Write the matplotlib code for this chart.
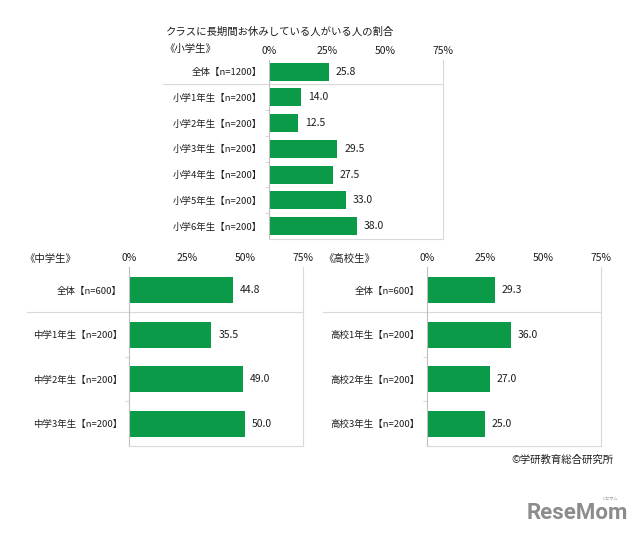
import matplotlib.pyplot as plt
from matplotlib.lines import Line2D

plt.rcParams['font.family'] = ['Noto Sans CJK JP', 'DejaVu Sans']

GREEN = '#0a9a48'
TEXT = '#1e1e1e'
LINE = '#d9d9d9'

title = 'クラスに長期間お休みしている人がいる人の割合'

elem_labels = ['全体【n=1200】', '小学1年生【n=200】', '小学2年生【n=200】', '小学3年生【n=200】',
               '小学4年生【n=200】', '小学5年生【n=200】', '小学6年生【n=200】']
elem_values = [25.8, 14.0, 12.5, 29.5, 27.5, 33.0, 38.0]

jhs_labels = ['全体【n=600】', '中学1年生【n=200】', '中学2年生【n=200】', '中学3年生【n=200】']
jhs_values = [44.8, 35.5, 49.0, 50.0]

hs_labels = ['全体【n=600】', '高校1年生【n=200】', '高校2年生【n=200】', '高校3年生【n=200】']
hs_values = [29.3, 36.0, 27.0, 25.0]

xticks = [0, 25, 50, 75]


def panel(fig, rect, labels, values, bar_h, sep_left, ylim):
    ax = fig.add_axes(rect)
    pos = list(range(len(values)))
    ax.barh(pos, values, height=bar_h, color=GREEN)
    for p, v in zip(pos, values):
        ax.text(v + 3, p, f'{v:.1f}', va='center', ha='left', fontsize=7.5, color=TEXT)
    ax.set_xlim(0, 75)
    ax.set_ylim(*ylim)
    ax.set_yticks(pos)
    ax.set_yticklabels(labels, fontsize=6.8, color=TEXT)
    ax.set_yticks([p + 0.5 for p in pos[:-1]], minor=True)
    ax.tick_params(axis='y', which='major', length=0, pad=5)
    ax.tick_params(axis='y', which='minor', length=3, color=LINE, width=0.8)
    ax.xaxis.tick_top()
    ax.set_xticks(xticks)
    ax.set_xticklabels([f'{t}%' for t in xticks], fontsize=7.5, color=TEXT)
    ax.tick_params(axis='x', length=0, pad=3)
    for s in ax.spines.values():
        s.set_color(LINE)
        s.set_linewidth(0.8)
    ax.spines['top'].set_visible(False)
    ax.spines['left'].set_color('#bfbfbf')
    # separator under the total row
    ax.add_line(Line2D([sep_left, 1], [0.5, 0.5], transform=ax.get_yaxis_transform(),
                       color=LINE, lw=0.8, clip_on=False))
    return ax


fig = plt.figure(figsize=(6.4, 5.35), dpi=100)
W, H = 640, 535


def rect(x0, x1, y0, y1):
    return [x0 / W, 1 - y1 / H, (x1 - x0) / W, (y1 - y0) / H]


panel(fig, rect(269, 443, 60, 239), elem_labels, elem_values, 0.7,
      (163 - 269) / 174, (6.5, -0.45))
panel(fig, rect(129, 303, 267, 446), jhs_labels, jhs_values, 0.58,
      (27 - 129) / 174, (3.5, -0.52))
panel(fig, rect(427, 601, 267, 446), hs_labels, hs_values, 0.58,
      (323 - 427) / 174, (3.5, -0.52))

fig.text(166 / W, 1 - 32 / H, title, fontsize=7.5, color=TEXT, va='center')
fig.text(164 / W, 1 - 49 / H, '《小学生》', fontsize=7.5, color=TEXT, va='center')
fig.text(24 / W, 1 - 259 / H, '《中学生》', fontsize=7.5, color=TEXT, va='center')
fig.text(323 / W, 1 - 259 / H, '《高校生》', fontsize=7.5, color=TEXT, va='center')
fig.text(614 / W, 1 - 460 / H, '©学研教育総合研究所', fontsize=7.5, color=TEXT,
         va='center', ha='right')
fig.text(628 / W, 1 - 513 / H, 'ReseMom', fontsize=16, color='#8c8c8c',
         fontweight='bold', va='center', ha='right', family='Roboto')
fig.text(618 / W, 1 - 499 / H, 'リセマム', fontsize=3, color='#8c8c8c',
         va='center', ha='right')

fig.savefig('out.png', dpi=100, facecolor='white')
